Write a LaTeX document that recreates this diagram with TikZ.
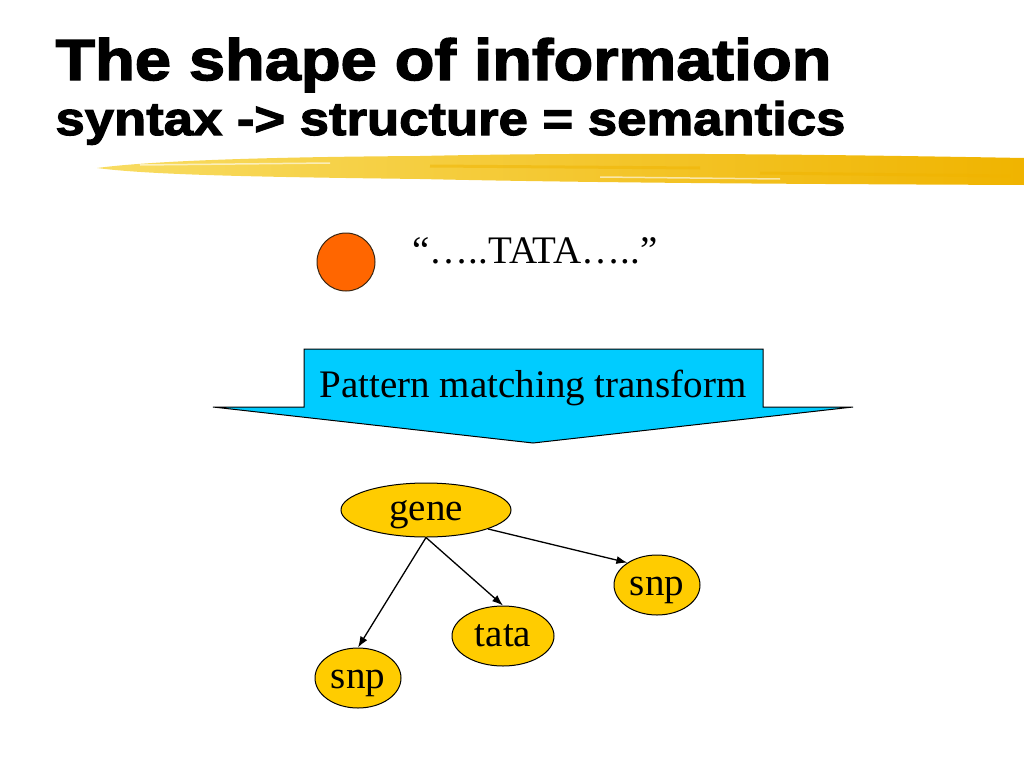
\documentclass[tikz,border=0pt]{standalone}
\usepackage{fontspec}
\setmainfont{Liberation Serif}
\newfontfamily\headfont[FakeStretch=1.12,FakeBold=2.5]{Liberation Sans Bold}
\usepackage{tikz}
\usetikzlibrary{shapes.geometric}
\usetikzlibrary{arrows.meta}
\usetikzlibrary{positioning}
\definecolor{brushL}{HTML}{F8DC62}
\definecolor{brushR}{HTML}{F0B400}
\definecolor{dotfill}{HTML}{FF6600}
\definecolor{arrowfill}{HTML}{00CCFF}
\definecolor{termfill}{HTML}{FFCC00}
\tikzset{every picture/.style={line width=1pt},
  bodytext/.style={inner sep=0pt,font=\fontsize{39}{42}\selectfont},
  term/.style={ellipse,draw,fill=termfill,inner sep=0pt,text height=29pt,text depth=9pt,font=\fontsize{39}{42}\selectfont},
  link/.style={-{Latex[length=11pt,width=8pt]},line width=1.3pt}}
\begin{document}
\begin{tikzpicture}[x=1pt,y=-1pt]
\useasboundingbox (0,0) rectangle (1024,768);
\node[anchor=base west,inner sep=0pt] (title) at (55,80) {\headfont\fontsize{58}{62}\selectfont The shape of information};
\node[anchor=base west,inner sep=0pt] (subtitle) at (55,135) {\headfont\fontsize{47}{50}\selectfont syntax -> structure = semantics};
\shade[left color=brushL,right color=brushR] (97,168) .. controls (150,161) and (260,157) .. (420,156) .. controls (600,152) and (800,154) .. (1024,158) -- (1024,185) .. controls (800,184) and (600,183) .. (420,179) .. controls (260,177) and (150,175) .. (97,168) -- cycle;
\draw[brushR,opacity=0.5,line width=3pt] (430,166) -- (700,168) (760,173) -- (1010,176);
\draw[white,opacity=0.6,line width=1.5pt] (140,165) -- (330,163) (600,177) -- (780,179);
\node[circle,draw=black!70!brown,fill=dotfill,minimum size=58pt,inner sep=0pt] (dot) at (346,262) {};
\node[bodytext,anchor=base] (seq) at (535,263) {“…..TATA…..”};
\draw[fill=arrowfill] (304,349) -- (763,349) -- (763,407) -- (853,407) -- (533,443) -- (213,407) -- (304,407) -- cycle;
\node[bodytext,anchor=base] (ptm) at (533,397) {Pattern matching transform};
\node[term,minimum width=170pt,minimum height=54pt] (gene) at (426,510) {gene};
\node[term,minimum width=86pt,minimum height=60pt] (snpR) at (657,585) {snp};
\node[term,minimum width=102pt,minimum height=60pt] (tata) at (503,636) {tata};
\node[term,minimum width=86pt,minimum height=60pt] (snpL) at (358,678) {snp};
\draw[link] (gene.south) -- (snpL.north);
\draw[link] (gene.south) -- (tata.north);
\draw[link] (gene.-17) -- (snpR.143);
\end{tikzpicture}
\end{document}
